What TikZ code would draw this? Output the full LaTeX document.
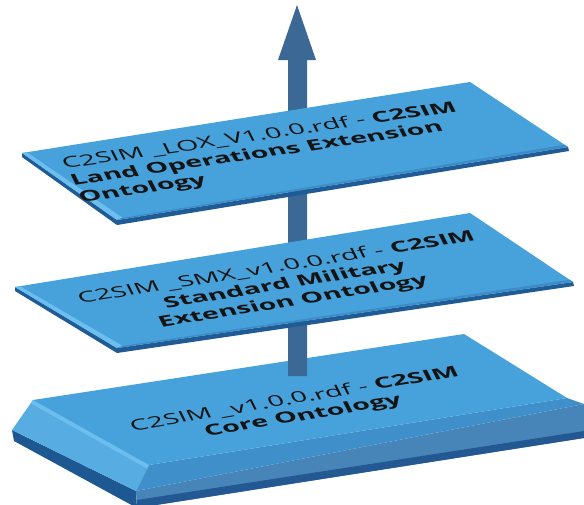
\documentclass[tikz,border=0pt]{standalone}
\usepackage{fontspec}
\setmainfont{Open Sans}
\usetikzlibrary{calc}

\definecolor{faceblue}{HTML}{47A2DC}
\definecolor{rimlight}{HTML}{6CBEEE}
\definecolor{rimshade}{HTML}{3D8BC7}
\definecolor{undersideblue}{HTML}{1F5C96}
\definecolor{slabbevelleft}{HTML}{57ACE2}
\definecolor{slabbevelfront}{HTML}{3F8FCB}
\definecolor{slabfront}{HTML}{4784B7}
\definecolor{slabfrontdark}{HTML}{235893}
\definecolor{slableft}{HTML}{1E5892}
\definecolor{arrowblue}{HTML}{3B6894}
\definecolor{labelink}{HTML}{141414}

\tikzset{
  platetext/.style={font=\fontsize{12}{14}\selectfont, text=labelink, inner sep=0pt},
  platetop/.style={fill=faceblue},
  plateside/.style={fill=undersideblue},
}

% thin plate: corners #1 (left), #2 (far), #3 (right), #4 (near)
\newcommand\thinplate[4]{%
  \fill[plateside] (#1) -- (#4) -- (#3) -- ($(#3)+(1,4)$) -- ($(#4)+(0,5)$) -- ($(#1)+(0,4)$) -- cycle;
  \fill[platetop] (#1) -- (#2) -- (#3) -- (#4) -- cycle;
  \fill[rimlight] (#1) -- (#4) -- ($(#4)!6pt!(#2)$) -- ($(#1)!5pt!(#2)$) -- cycle;
  \fill[rimshade] (#4) -- (#3) -- ($(#3)!4pt!(#2)$) -- ($(#4)!6pt!(#2)$) -- cycle;
}

\begin{document}
\begin{tikzpicture}[x=1pt,y=-1pt]
\fill[white] (0,0) rectangle (584,504);
\useasboundingbox (0,0) rectangle (584,504);

% ---- base slab ----
\coordinate (sA) at (33,400);
\coordinate (sB) at (464,334);
\coordinate (sC) at (567,398);
\coordinate (sD) at (149,465);
\coordinate (oA) at (12,430);
\coordinate (oD) at (136,491);
\coordinate (oC) at (584,404);
\coordinate (bA) at (14,441);
\coordinate (bD) at (137,508);
\coordinate (bC) at (584,438);

\fill[slableft] (oA) -- (oD) -- (bD) -- (bA) -- cycle;
\fill[slabfront] (oD) -- (oC) -- (bC) -- (bD) -- cycle;
\fill[slabfrontdark] ($(bD)+(0,-8)$) -- ($(bC)+(0,-7)$) -- (bC) -- (bD) -- cycle;
\fill[slabbevelleft] (sA) -- (sD) -- (oD) -- (oA) -- cycle;
\fill[slabbevelfront] (sD) -- (sC) -- (oC) -- (oD) -- cycle;
\fill[rimlight] (sA) -- (sD) -- ($(sD)!4pt!(oD)$) -- ($(sA)!4pt!(oA)$) -- cycle;
\fill[platetop] (sA) -- (sB) -- (sC) -- (sD) -- cycle;

% ---- upward arrow ----
\fill[arrowblue] (288,376) -- (288,60) -- (278,60) -- (297,5) -- (316,60)
  -- (307,60) -- (307,376) -- cycle;

% ---- middle plate ----
\coordinate (mA) at (15,287);
\coordinate (mB) at (470,213);
\coordinate (mC) at (573,282);
\coordinate (mD) at (117,348);
\thinplate{mA}{mB}{mC}{mD}

% ---- top plate ----
\coordinate (tA) at (22,153);
\coordinate (tB) at (470,82);
\coordinate (tC) at (568,147);
\coordinate (tD) at (117,220);
\thinplate{tA}{tB}{tC}{tD}

% ---- labels ----
\begin{scope}[shift={(299,408)}]
  \node[platetext, align=center, cm={2.3,0.39,-0.6,1.2,(0,0)}] (corelabel) at (0,0)
    {C2SIM \_v1.0.0.rdf - \textbf{C2SIM}\\\textbf{Core Ontology}};
\end{scope}
\begin{scope}[shift={(285,285)}]
  \node[platetext, align=center, cm={2.3,0.368,-0.6,1.2,(0,0)}] (smxlabel) at (0,0)
    {C2SIM \_SMX\_v1.0.0.rdf - \textbf{C2SIM}\\\textbf{Standard Military}\\\textbf{Extension Ontology}};
\end{scope}
\begin{scope}[shift={(268,153)}]
  \node[platetext, align=left, cm={2.3,0.336,-0.6,1.2,(0,0)}] (loxlabel) at (0,0)
    {C2SIM \_LOX\_V1.0.0.rdf - \textbf{C2SIM}\\\textbf{Land Operations Extension}\\\textbf{Ontology}};
\end{scope}
\end{tikzpicture}
\end{document}
